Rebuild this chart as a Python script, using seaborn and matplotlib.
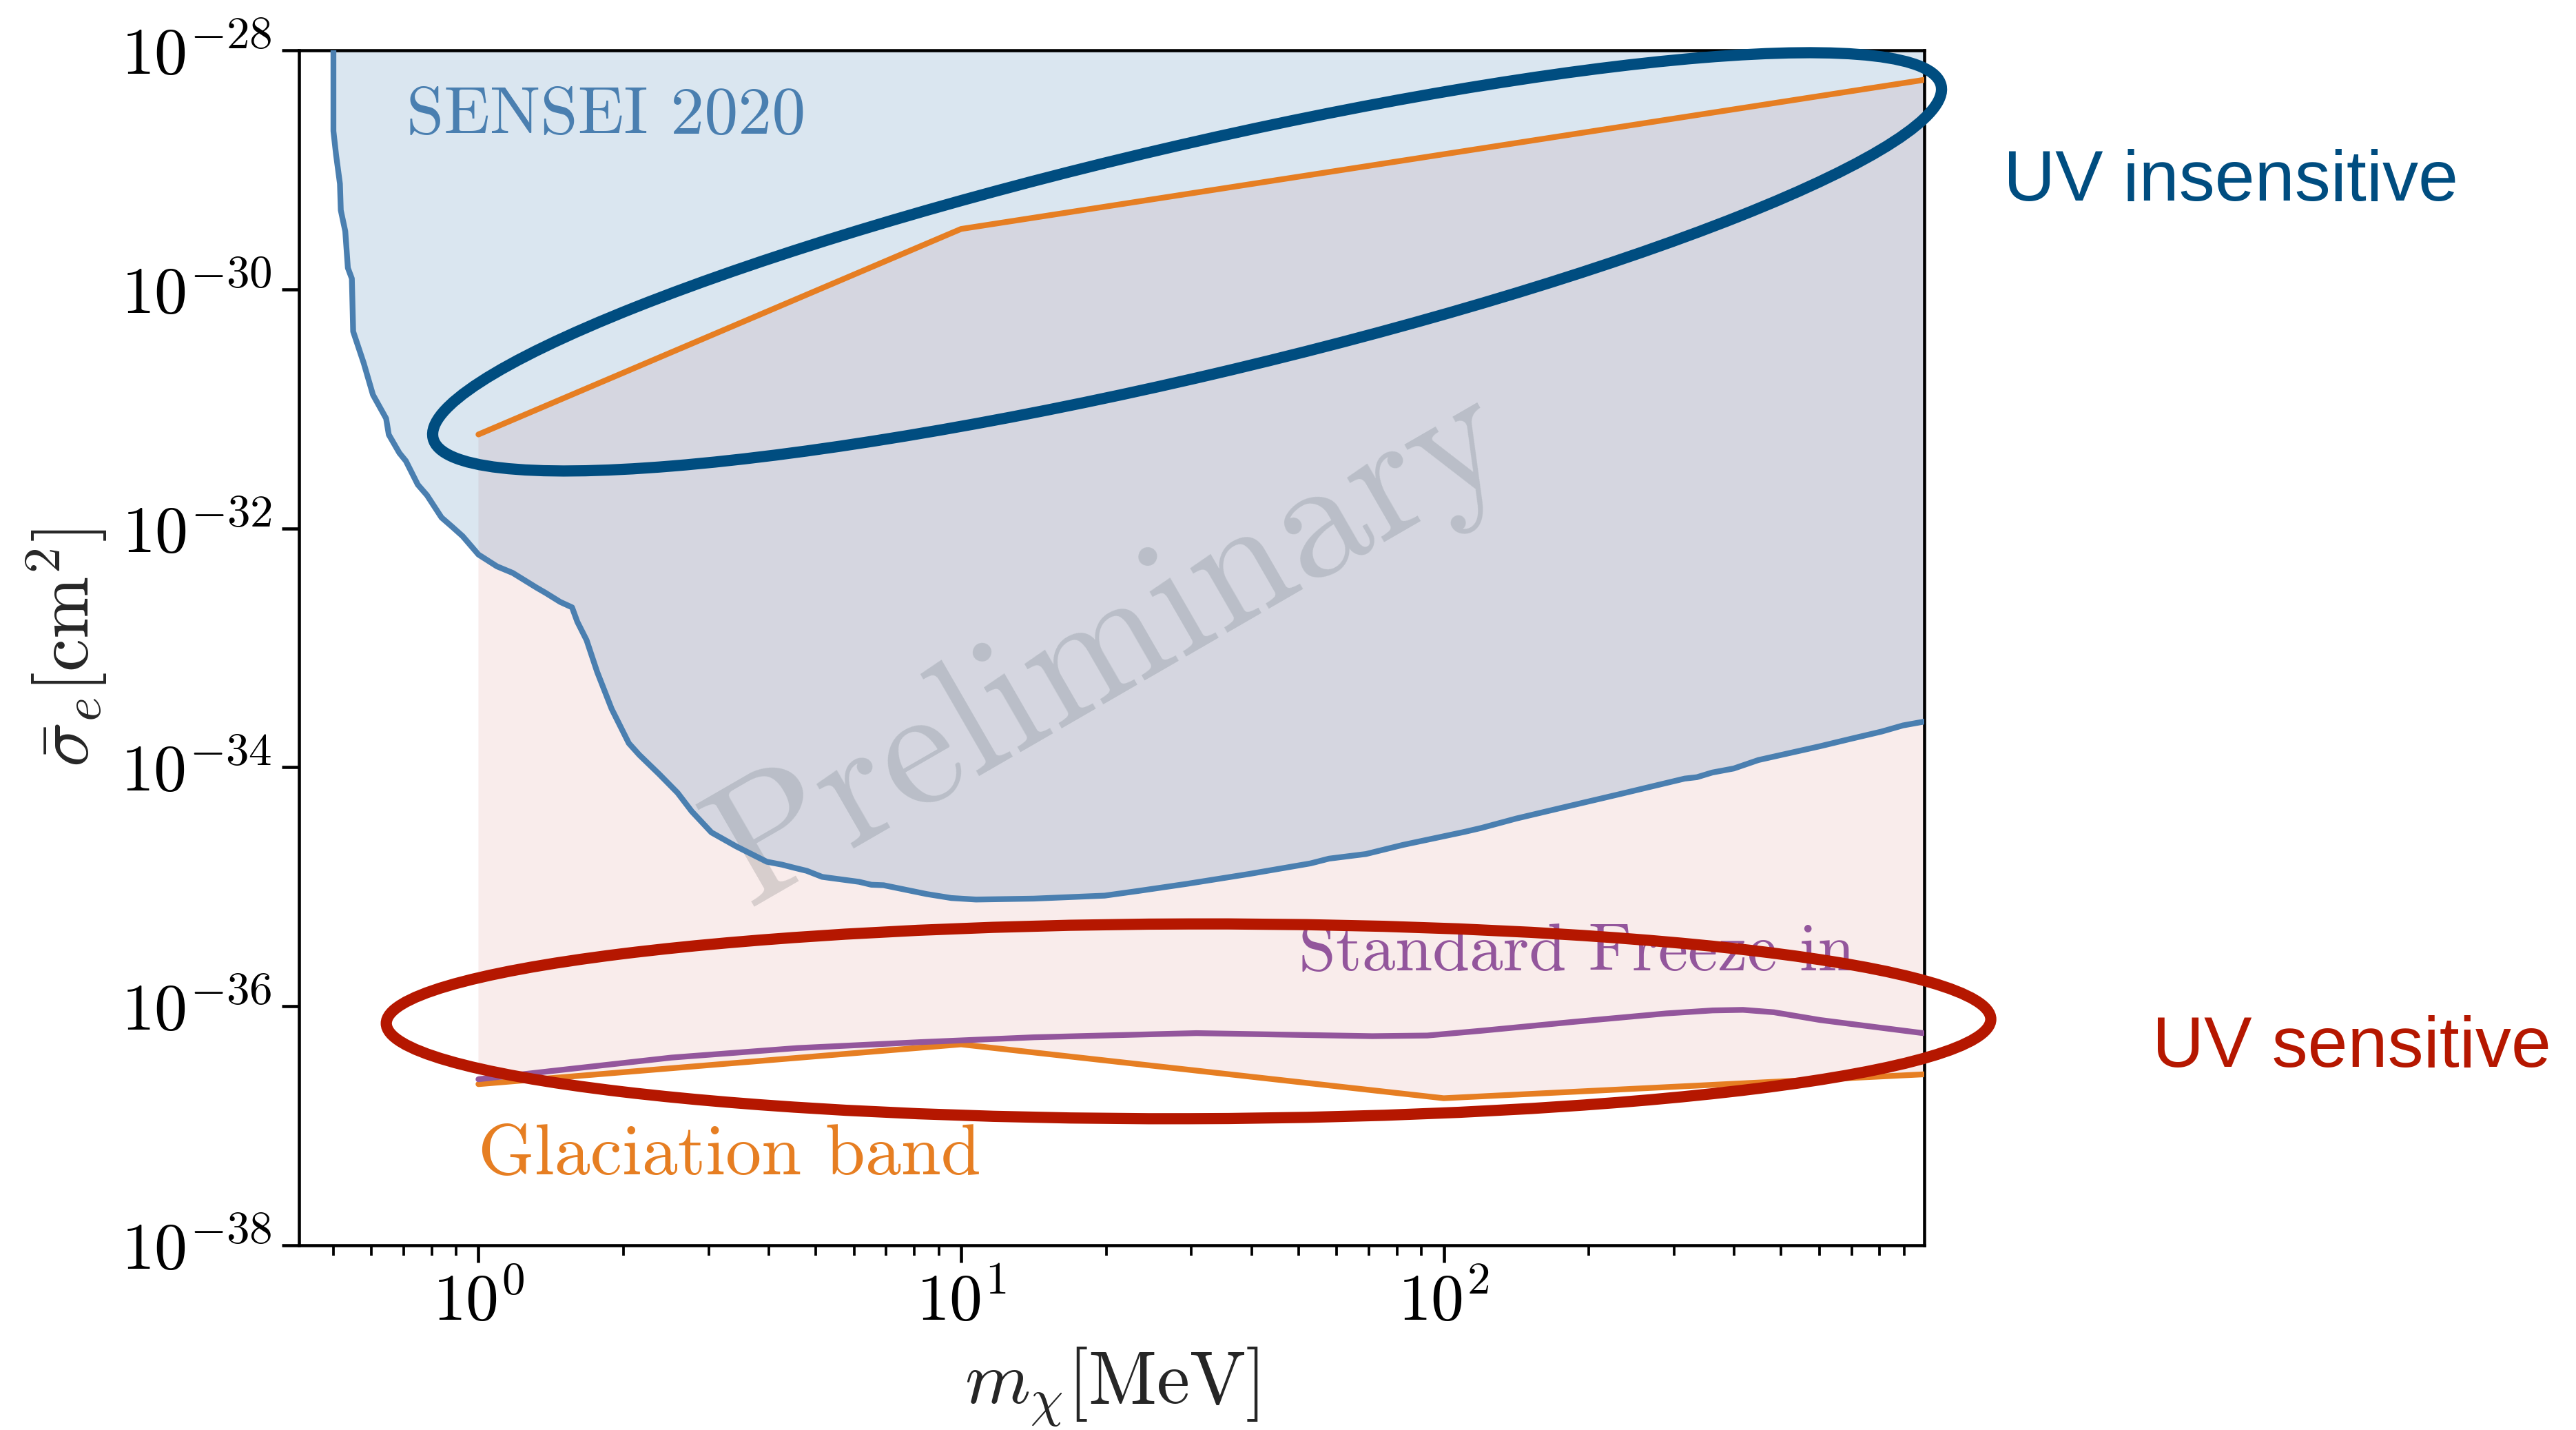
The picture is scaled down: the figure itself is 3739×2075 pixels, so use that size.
import numpy as np
import pandas as pd
import matplotlib
matplotlib.use("Agg")
import matplotlib.pyplot as plt
import seaborn as sns
from matplotlib.patches import Ellipse
from matplotlib.transforms import ScaledTranslation
from matplotlib.ticker import FixedLocator, NullLocator

# ---------------- data ----------------
# SENSEI 2020 exclusion boundary: m_chi [MeV], sigma_e [cm^2]
sensei_mass = [0.5007, 0.5007, 0.5070, 0.5165, 0.5186, 0.5298, 0.5364, 0.5467, 0.5501,
               0.5786, 0.6046, 0.6438, 0.6520, 0.6858, 0.7074, 0.7488, 0.7824, 0.8386,
               0.8821, 0.9275, 1.000, 1.0925, 1.178, 1.319, 1.378, 1.477, 1.563, 1.603,
               1.675, 1.762, 1.888, 2.049, 2.154, 2.368, 2.586, 2.766, 3.039, 3.419,
               3.958, 4.259, 4.517, 4.788, 5.155, 6.147, 6.518, 6.912, 8.488, 9.548,
               10.74, 14.15, 19.83, 23.30, 29.46, 39.52, 53.0, 57.87, 69.0, 82.3,
               110.4, 119.8, 141.2, 180.7, 231.9, 315.6, 334.6, 360.1, 399.0, 448.8,
               602.0, 697.0, 807.4, 894.5, 1000.0]
sensei_sigma = [1.0e-28, 2.11e-29, 1.34e-29, 7.64e-30, 4.59e-30, 3.06e-30, 1.51e-30, 1.23e-30,
                4.44e-31, 2.41e-31, 1.31e-31, 8.30e-32, 6.08e-32, 4.27e-32, 3.66e-32, 2.32e-32,
                1.89e-32, 1.23e-32, 1.03e-32, 8.59e-33, 6.03e-33, 4.80e-33, 4.23e-33, 3.19e-33,
                2.88e-33, 2.42e-33, 2.18e-33, 1.65e-33, 1.16e-33, 6.28e-34, 3.08e-34, 1.59e-34,
                1.27e-34, 8.77e-35, 6.11e-35, 4.28e-35, 2.85e-35, 2.18e-35, 1.62e-35, 1.53e-35,
                1.44e-35, 1.36e-35, 1.21e-35, 1.10e-35, 1.04e-35, 1.03e-35, 8.69e-36, 8.05e-36,
                7.82e-36, 7.96e-36, 8.43e-36, 9.23e-36, 1.06e-35, 1.28e-35, 1.57e-35, 1.72e-35,
                1.88e-35, 2.24e-35, 2.88e-35, 3.11e-35, 3.72e-35, 4.71e-35, 5.97e-35, 8.04e-35,
                8.26e-35, 9.04e-35, 9.77e-35, 1.15e-34, 1.50e-34, 1.73e-34, 1.99e-34, 2.24e-34,
                2.43e-34]

# Glaciation band edges
glac_upper_mass = [1.0, 10.0, 1000.0]
glac_upper_sigma = [6.1e-32, 3.2e-30, 5.7e-29]
glac_lower_mass = [1.0, 10.0, 100.0, 1000.0]
glac_lower_sigma = [2.23e-37, 4.8e-37, 1.7e-37, 2.7e-37]

# Standard freeze-in line
freeze_mass = [1.0, 1.426, 2.512, 4.581, 8.241, 14.16, 30.76, 71.12, 92.47, 119.7,
               186.2, 289.1, 360.6, 416.9, 483.1, 602.6, 984.0]
freeze_sigma = [2.45e-37, 2.88e-37, 3.72e-37, 4.47e-37, 5.01e-37, 5.50e-37, 5.96e-37,
                5.62e-37, 5.69e-37, 6.24e-37, 7.41e-37, 8.71e-37, 9.23e-37, 9.33e-37,
                8.91e-37, 7.67e-37, 5.96e-37]

y_ticks = [1e-38, 1e-36, 1e-34, 1e-32, 1e-30, 1e-28]

# ---------------- style ----------------
STEEL = "#4a7fb0"
ORANGE = "#e67e22"
PURPLE = "#93569c"
DARKBLUE = "#004d80"
DARKRED = "#b51700"

sns.set_theme(style="ticks")
plt.rcParams.update({
    "font.family": "serif",
    "font.serif": ["cmr10"],
    "mathtext.fontset": "cm",
    "axes.formatter.use_mathtext": True,
    "axes.linewidth": 1.1,
    "axes.edgecolor": "black",
    "xtick.color": "black",
    "ytick.color": "black",
    "xtick.major.size": 6, "xtick.major.width": 1.1,
    "xtick.minor.size": 3.5, "xtick.minor.width": 0.9,
    "ytick.major.size": 6, "ytick.major.width": 1.1,
    "xtick.labelsize": 23, "ytick.labelsize": 23,
})

fig = plt.figure(figsize=(3739 / 300, 2075 / 300), dpi=300)
ax = fig.add_axes([0.1161, 0.1292, 0.6309, 0.8356])
ax.set_xscale("log")
ax.set_yscale("log")

# glaciation band (drawn first, SENSEI region is layered over it)
band_x = glac_upper_mass + glac_lower_mass[::-1]
band_y = glac_upper_sigma + glac_lower_sigma[::-1]
ax.fill(band_x, band_y, color=DARKRED, alpha=0.08, lw=0, zorder=1)

ax.text(0.5, 0.5, "Preliminary", transform=ax.transAxes, rotation=30,
        fontsize=60, color="gray", alpha=0.28, ha="center", va="center", zorder=1.2)

# SENSEI excluded region
ax.fill_between(sensei_mass, sensei_sigma, 1e-28, color="steelblue", alpha=0.2,
                lw=0, zorder=1.5)

sns.lineplot(x=sensei_mass, y=sensei_sigma, ax=ax, color=STEEL, lw=2.0,
             sort=False, estimator=None, zorder=3)
sns.lineplot(x=glac_upper_mass, y=glac_upper_sigma, ax=ax, color=ORANGE, lw=2.0,
             sort=False, estimator=None, zorder=3)
sns.lineplot(x=glac_lower_mass, y=glac_lower_sigma, ax=ax, color=ORANGE, lw=2.0,
             sort=False, estimator=None, zorder=3)
sns.lineplot(x=freeze_mass, y=freeze_sigma, ax=ax, color=PURPLE, lw=2.0,
             sort=False, estimator=None, zorder=3.2)

ax.text(0.71, 2.0e-29, "SENSEI 2020", color=STEEL, fontsize=23.5, va="baseline", ha="left")
ax.text(1.0, 3.9e-38, "Glaciation band", color=ORANGE, fontsize=25, va="baseline", ha="left")
ax.text(50, 2.0e-36, "Standard Freeze in", color=PURPLE, fontsize=23.3, va="baseline", ha="left",
        zorder=4)

ax.set_xlim(0.425, 990)
ax.set_ylim(1e-38, 1e-28)
ax.yaxis.set_major_locator(FixedLocator(y_ticks))
ax.yaxis.set_minor_locator(NullLocator())
ax.tick_params(axis="both", which="both", top=False, right=False, direction="out")

ax.set_xlabel(r"$m_\chi [\mathrm{MeV}]$", fontsize=26)
ax.set_ylabel(r"$\bar{\sigma}_e [\mathrm{cm}^2]$", fontsize=26)

# highlight rings, sized in inches and anchored in axes coordinates
def ring(cx, cy, w_in, h_in, angle, color):
    tr = fig.dpi_scale_trans + ScaledTranslation(cx, cy, ax.transAxes)
    e = Ellipse((0, 0), w_in, h_in, angle=angle, fill=False, ec=color, lw=3.9,
                transform=tr, clip_on=False, zorder=6)
    fig.add_artist(e)

ring(0.5464, 0.8230, 7.493, 1.115, 13.17, DARKBLUE)
ring(0.5473, 0.1874, 7.763, 0.942, 0.15, DARKRED)

fig.text(0.7778, 0.8598, "UV insensitive", color=DARKBLUE, fontsize=25,
         family="Liberation Sans", va="baseline", ha="left")
fig.text(0.8355, 0.2540, "UV sensitive", color=DARKRED, fontsize=25,
         family="Liberation Sans", va="baseline", ha="left")

fig.savefig("out.png", dpi=300)
